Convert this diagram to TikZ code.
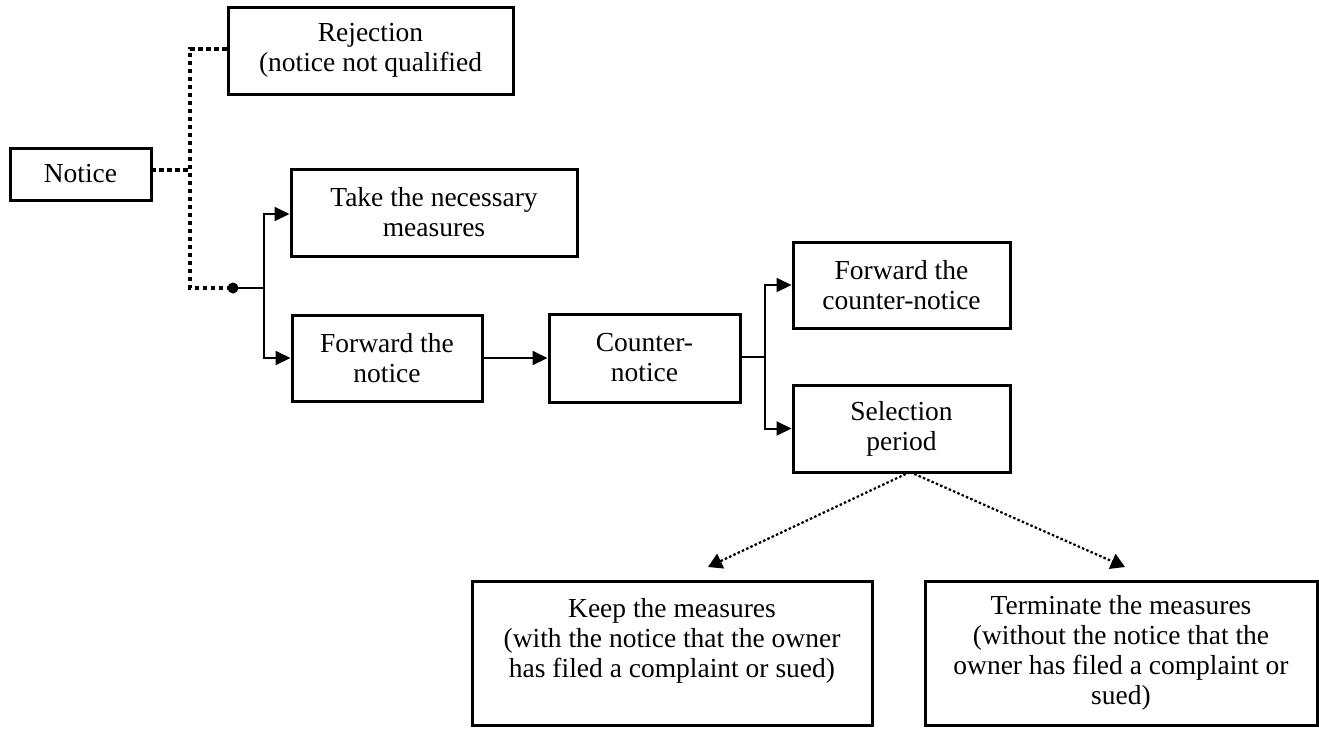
\documentclass[tikz,border=0pt]{standalone}
\usepackage{fontspec}
\setmainfont{Liberation Serif}
\usetikzlibrary{arrows.meta,calc}
\begin{document}
\begin{tikzpicture}[x=1pt,y=-1pt,
  box/.style={draw,line width=3pt,rectangle,inner sep=0pt,align=center,
    font=\fontsize{27.5}{30}\selectfont},
  conn/.style={line width=2pt},
  arr/.style={conn,-{Triangle[length=15pt,width=14pt]}},
  thickdot/.style={line width=3.8pt,dash pattern=on 4.5pt off 3.5pt},
  thindot/.style={line width=2.2pt,dash pattern=on 2.5pt off 2.2pt,-{Triangle[length=14pt,width=16pt]}},
  txt/.style={align=center,font=\fontsize{27.5}{30}\selectfont,inner sep=0pt}]
\useasboundingbox (0,0) rectangle (1319,729);
\node[box,minimum width=141pt,minimum height=52pt] (notice) at (80.5,174) {Notice};
\node[box,minimum width=285pt,minimum height=87pt] (rej) at (370.5,50.5) {Rejection\\(notice not qualified};
\node[box,minimum width=286pt,minimum height=87pt] (take) at (434,212.5) {Take the necessary\\measures};
\node[box,minimum width=190pt,minimum height=86pt] (fwd) at (387,358) {Forward the\\notice};
\node[box,minimum width=191pt,minimum height=88pt] (cn) at (644.5,358) {Counter-\\notice};
\node[box,minimum width=217pt,minimum height=86pt] (fcn) at (901.5,285) {Forward the\\counter-notice};
\node[box,minimum width=217pt,minimum height=87pt] (sel) at (901.5,428.5) {Selection\\period};
\node[box,minimum width=400pt,minimum height=144pt] (keep) at (672,653) {};
\node[txt] (keeptxt) at (672,641) {Keep the measures\\(with the notice that the owner\\has filed a complaint or sued)};
\node[box,minimum width=392pt,minimum height=144pt] (term) at (1121,653) {Terminate the measures\\(without the notice that the\\owner has filed a complaint or\\sued)};
% junctions
\coordinate (trunk) at (190,288);
\coordinate (rejin) at (190,49);
\coordinate (notout) at (151,170);
\fill (233,288) circle (5.5pt);
\coordinate (dot) at (233,288);
\coordinate (br1) at (264,288);
\coordinate (br2) at (765,357);
\coordinate (selout) at (910,472);
\coordinate (keepin) at (708,567);
\coordinate (termin) at (1125,567);
% dotted connectors
\draw[thickdot] (rej.west |- rejin) -- (rejin) -- (trunk) -- (dot);
\draw[thickdot] (notout) -- (notout -| trunk);
% solid branches
\draw[conn] (dot) -- (br1);
\draw[arr] (br1) |- (take.west |- 0,214);
\draw[arr] (br1) |- (fwd.west);
\draw[arr] (fwd.east) -- (cn.west);
\draw[conn] (cn.east |- br2) -- (br2);
\draw[arr] (br2) |- (fcn.west);
\draw[arr] (br2) |- (sel.west);
% dotted arrows
\draw[thindot] (selout) -- (keepin);
\draw[thindot] (selout) -- (termin);
\end{tikzpicture}
\end{document}
